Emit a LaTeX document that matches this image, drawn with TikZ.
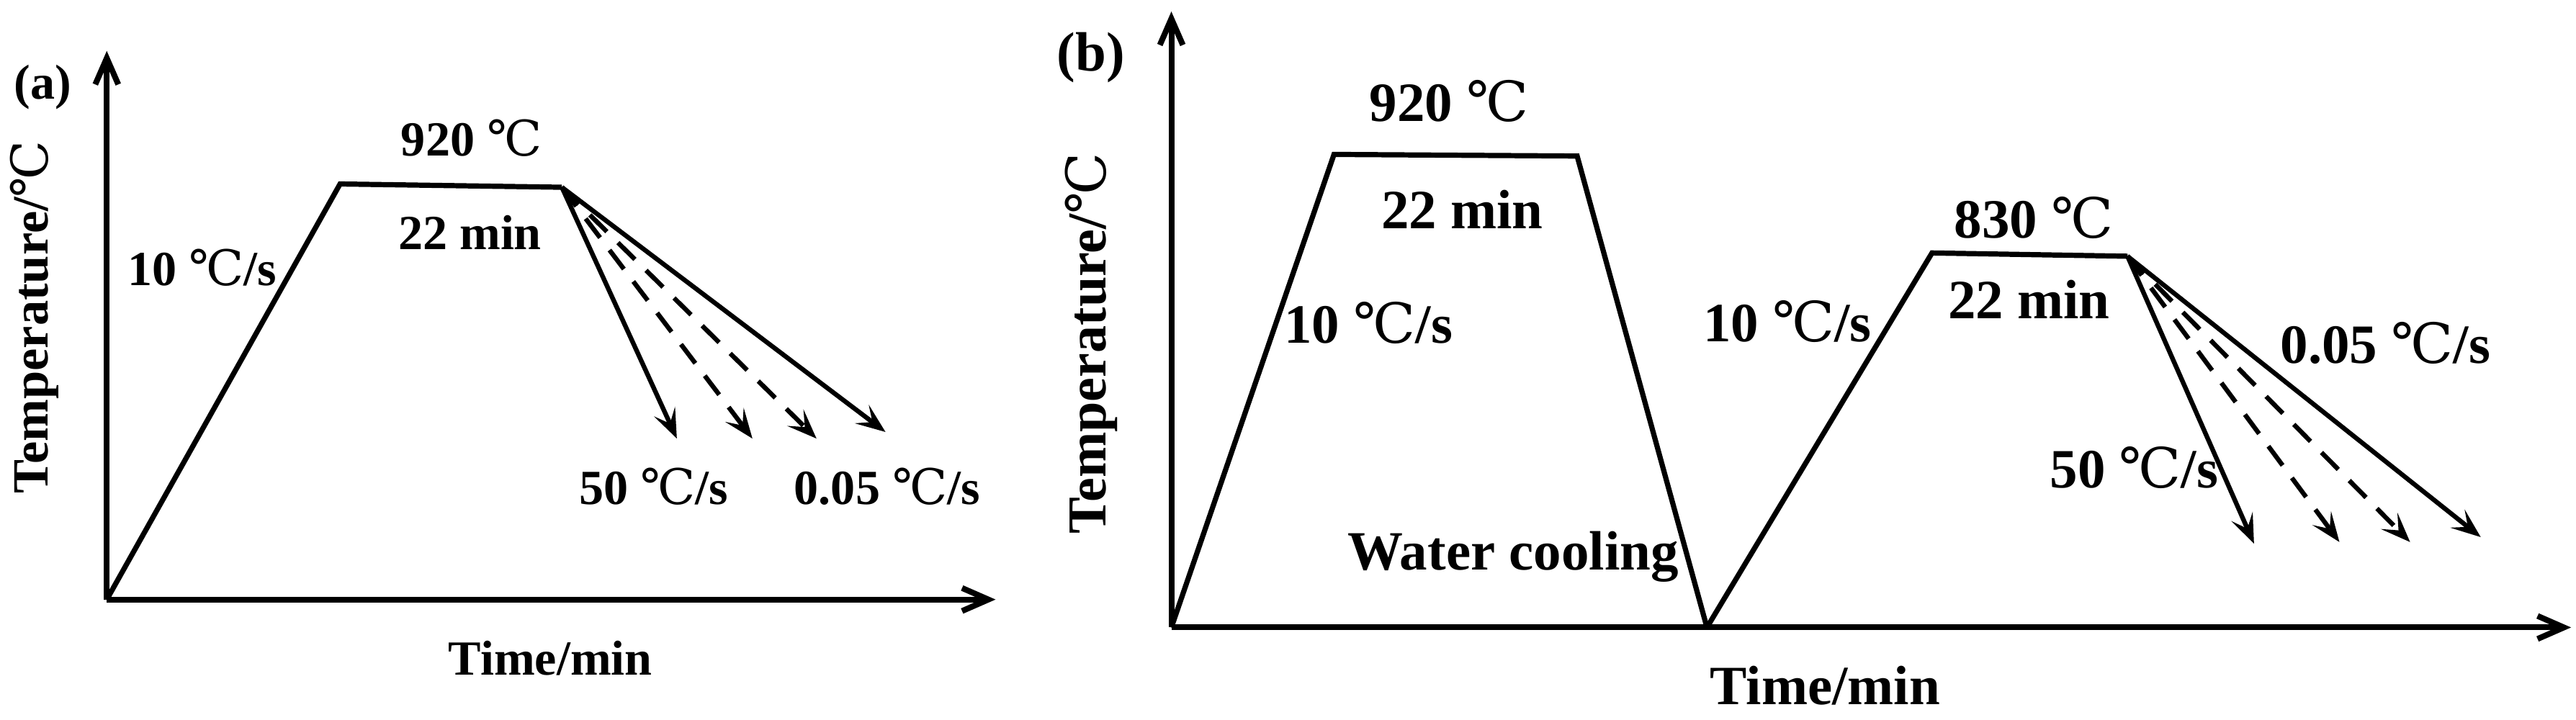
\documentclass[tikz,border=0pt]{standalone}
\usepackage{fontspec}
\setmainfont{Liberation Serif}
\newfontfamily\degfont{DejaVu Serif}
\usetikzlibrary{arrows.meta}
\newcommand\degC{{\degfont\mdseries ℃}}

\tikzset{
  ax/.style={line width=1pt, -{Straight Barb[length=1.6mm, width=1.4mm]}},
  prof/.style={line width=0.9pt, line join=miter},
  cool/.style={line width=0.8pt, -{Stealth[length=1.8mm, width=1.4mm, inset=0.8mm]}},
  cooldash/.style={cool, dash pattern=on 1.45mm off 0.95mm},
  lbla/.style={font=\bfseries\fontsize{8.5}{10}\selectfont, inner sep=0, anchor=base},
  lblb/.style={font=\bfseries\fontsize{9.6}{11}\selectfont, inner sep=0, anchor=base},
}

\begin{document}
\begin{tikzpicture}[x=0.1mm, y=-0.1mm]
    \useasboundingbox (0,0) rectangle (1568,438);

    % (a) axes
    \coordinate (Ao) at (65,365);
    \coordinate (Ay) at (65,31);
    \coordinate (Ax) at (606,365);
    \draw[ax] (Ao) -- (Ay);
    \draw[ax] (Ao) -- (Ax);

    % (a) heating and holding
    \coordinate (Ah1) at (207,112);
    \coordinate (Ah2) at (342,114);
    \draw[prof] (Ao) -- (Ah1) -- (Ah2);

    % (a) cooling fan
    \coordinate (Ac1) at (412,267);
    \coordinate (Ac2) at (458,267);
    \coordinate (Ac3) at (497,267);
    \coordinate (Ac4) at (539,263);
    \draw[cool] (Ah2) -- (Ac1);
    \draw[cooldash] (Ah2) -- (Ac2);
    \draw[cooldash] (Ah2) -- (Ac3);
    \draw[cool] (Ah2) -- (Ac4);

    % (a) labels
    \node[lbla, anchor=center] (atag) at (26,53) {(a)};
    \node[lbla] (ahold) at (287,95) {920 \degC};
    \node[lbla] (atime) at (286,152) {22 min};
    \node[lbla] (aheat) at (123,174) {10 \degC/s};
    \node[lbla] (afast) at (398,307) {50 \degC/s};
    \node[lbla] (aslow) at (540,307) {0.05 \degC/s};
    \node[lbla] (axlab) at (335,411) {Time/min};
    \node[lbla, font=\bfseries\fontsize{8.8}{10}\selectfont, rotate=90] (aylab) at (29,193) {Temperature/\degC};

    % (b) axes
    \coordinate (Bo) at (713,382);
    \coordinate (By) at (713,7);
    \coordinate (Bx) at (1565,382);
    \draw[ax] (Bo) -- (By);
    \draw[ax] (Bo) -- (Bx);

    % (b) first cycle, then water cooling
    \coordinate (Bh1) at (812,94);
    \coordinate (Bh2) at (960,95);
    \coordinate (Bw) at (1039,382);
    \draw[prof] (Bo) -- (Bh1) -- (Bh2) -- (Bw);

    % (b) second heating and holding
    \coordinate (Bh3) at (1176,154);
    \coordinate (Bh4) at (1295,156);
    \draw[prof] (Bw) -- (Bh3) -- (Bh4);

    % (b) cooling fan
    \coordinate (Bc1) at (1372,331);
    \coordinate (Bc2) at (1424,330);
    \coordinate (Bc3) at (1467,330);
    \coordinate (Bc4) at (1510,327);
    \draw[cool] (Bh4) -- (Bc1);
    \draw[cooldash] (Bh4) -- (Bc2);
    \draw[cooldash] (Bh4) -- (Bc3);
    \draw[cool] (Bh4) -- (Bc4);

    % (b) labels
    \node[lblb, anchor=center] (btag) at (664,35) {(b)};
    \node[lblb] (bhold1) at (882,74) {920 \degC};
    \node[lblb] (btime1) at (890,139) {22 min};
    \node[lblb] (bheat1) at (833,209) {10 \degC/s};
    \node[lblb] (bwater) at (921,347) {Water cooling};
    \node[lblb] (bheat2) at (1088,208) {10 \degC/s};
    \node[lblb] (bhold2) at (1238,145) {830 \degC};
    \node[lblb] (btime2) at (1235,194) {22 min};
    \node[lblb] (bfast) at (1299,297) {50 \degC/s};
    \node[lblb] (bslow) at (1452,221) {0.05 \degC/s};
    \node[lblb] (bxlab) at (1111,429) {Time/min};
    \node[lblb, font=\bfseries\fontsize{9.5}{11}\selectfont, rotate=90] (bylab) at (673,209) {Temperature/\degC};
\end{tikzpicture}
\end{document}
